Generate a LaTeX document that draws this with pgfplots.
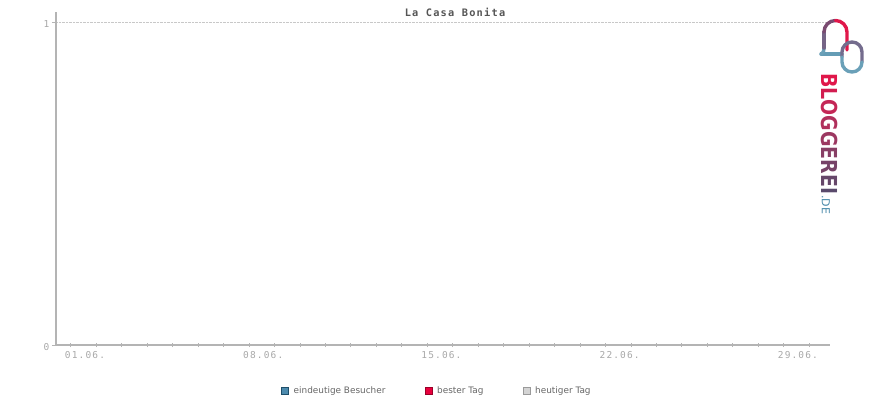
\documentclass[border=0pt]{standalone}
\usepackage{pgfplots}
\pgfplotsset{compat=1.18}
\usepackage{fontspec}
\setmainfont{DejaVu Sans}
\newfontfamily\tickfont[LetterSpace=12]{DejaVu Sans Mono}
\newfontfamily\titlefont[LetterSpace=12]{DejaVu Sans Mono}
\newfontfamily\logofont{DejaVu Sans}
\definecolor{axisgray}{HTML}{B4B4B4}
\definecolor{gridgray}{HTML}{C8C8C8}
\definecolor{ticktext}{HTML}{A8A8A8}
\definecolor{titlegray}{HTML}{555555}
\definecolor{legtext}{HTML}{666666}
\definecolor{besucher}{HTML}{4D8BAE}
\definecolor{besucherb}{HTML}{1F4F6A}
\definecolor{bester}{HTML}{E8003D}
\definecolor{besterb}{HTML}{9A0028}
\definecolor{heute}{HTML}{D4D4D4}
\definecolor{heuteb}{HTML}{9A9A9A}
\definecolor{lgA}{HTML}{E0174A}
\definecolor{lgB}{HTML}{D21D50}
\definecolor{lgC}{HTML}{C42756}
\definecolor{lgD}{HTML}{B0305C}
\definecolor{lgE}{HTML}{9C3861}
\definecolor{lgF}{HTML}{883F65}
\definecolor{lgG}{HTML}{764368}
\definecolor{lgH}{HTML}{66476A}
\definecolor{lgI}{HTML}{5A4A6C}
\definecolor{lgDE}{HTML}{4A8AAA}
\definecolor{icblue}{HTML}{6AA0B8}
\definecolor{icpurple}{HTML}{7A4A70}
\begin{document}
\begin{tikzpicture}
\path[use as bounding box] (0pt,0pt) rectangle (870pt,-400pt);
\begin{axis}[
  at={(56pt,-345pt)}, anchor=south west,
  scale only axis, width=774pt, height=333pt,
  xmin=-0.08, xmax=30.32, ymin=0, ymax=1.031,
  axis x line=bottom, axis y line=left,
  axis line style={-, draw=axisgray, line width=1.6pt},
  xtick={1,8,15,22,29},
  xticklabels={01.06.,08.06.,15.06.,22.06.,29.06.},
  minor xtick={0.5,1.5,...,29.5},
  ytick={0,1}, yticklabels={0,1},
  major x tick style={draw=none},
  minor x tick style={draw=axisgray, line width=0.8pt},
  minor tick length=4pt,
  xtick align=center,
  ytick align=outside,
  major tick length=4pt,
  y tick style={draw=axisgray, line width=0.8pt},
  ymajorgrids, grid style={densely dotted, draw=gridgray, line width=0.6pt},
  /pgf/number format/assume math mode=true,
  tick label style={font=\tickfont\fontsize{9.5}{10}\selectfont, text=ticktext},
  xticklabel style={yshift=-1pt, xshift=1.5pt},
  yticklabel style={xshift=1pt, yshift=-2pt},
  title={\titlefont\bfseries\fontsize{10.3}{11}\selectfont La Casa Bonita},
  title style={text=titlegray, at={(0.5155,1)}, anchor=center, yshift=-6pt},
  legend columns=3,
  legend style={at={(0.492,-0.138)}, anchor=center, draw=none, fill=none,
    font=\fontsize{8.9}{9}\selectfont, text=legtext,
    /tikz/every even column/.append style={column sep=37pt},
    /tikz/every odd column/.append style={column sep=2.5pt}},
  legend image code/.code={\draw[#1] (0pt,-3.6pt) rectangle (7.2pt,3.6pt);},
]
\addlegendimage{fill=besucher, draw=besucherb, line width=1pt}
\addlegendentry{eindeutige Besucher}
\addlegendimage{fill=bester, draw=besterb, line width=1pt}
\addlegendentry{bester Tag}
\addlegendimage{fill=heute, draw=heuteb, line width=1pt}
\addlegendentry{heutiger Tag}
\end{axis}
% logo icon
\begin{scope}[line width=3.4pt, line cap=round]
\draw[icblue!80!lgDE] (821pt,-54pt) -- (842pt,-54pt);
\draw[icblue] (824pt,-48pt) .. controls (824pt,-52pt) and (822pt,-54pt) .. (821pt,-54pt);
\draw[icpurple!70!icblue] (824pt,-48pt) -- (824pt,-32pt);
\draw[icpurple] (824pt,-32pt) arc (180:90:11.5pt);
\draw[lgA] (835.5pt,-20.5pt) arc (90:0:11.5pt) -- (847pt,-50pt);
\draw[icpurple!60!icblue] (842pt,-57pt) -- (842pt,-52pt) arc (180:0:10pt) -- (862pt,-62pt);
\draw[icblue] (862pt,-62pt) arc (0:-180:10pt) -- (842pt,-57pt);
\end{scope}
\node[rotate=-90, anchor=north west, inner sep=0pt] at (838.5pt,-73pt) {\scalebox{0.86}[1]{\logofont\bfseries\fontsize{22}{22}\selectfont
\textcolor{lgA}{B}\textcolor{lgB}{L}\textcolor{lgC}{O}\textcolor{lgD}{G}\textcolor{lgE}{G}\textcolor{lgF}{E}\textcolor{lgG}{R}\textcolor{lgH}{E}\textcolor{lgI}{I}}\kern1pt\textcolor{lgDE}{\fontsize{11}{11}\selectfont .DE}};
\end{tikzpicture}
\end{document}
